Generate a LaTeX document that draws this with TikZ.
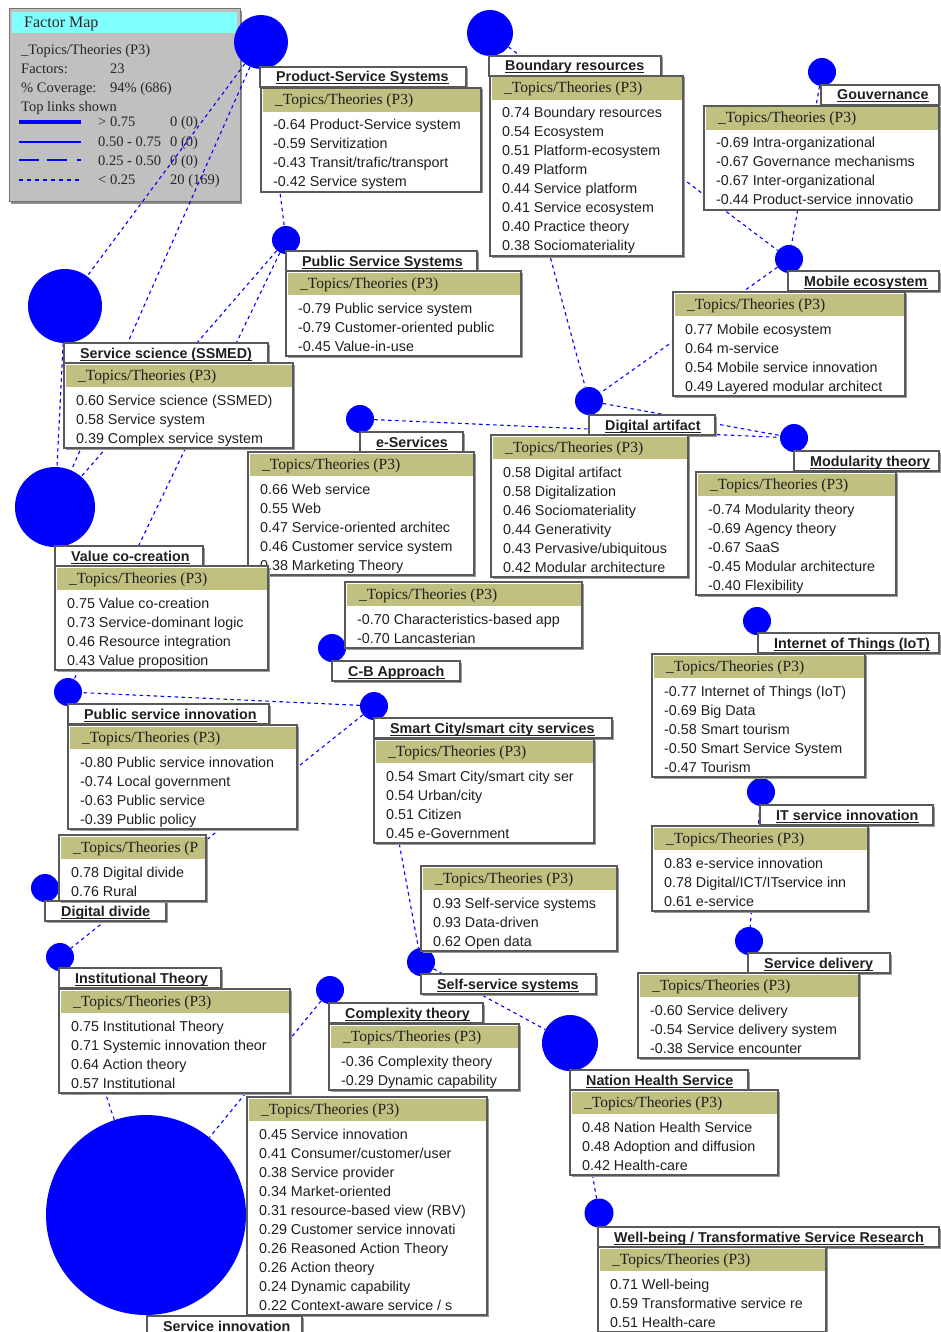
\documentclass[tikz,border=0pt]{standalone}
\usepackage{fontspec}
\setmainfont{Liberation Sans}
\newfontfamily\serifF{Liberation Serif}
\definecolor{hdr}{RGB}{192,192,128}
\definecolor{lgd}{RGB}{192,192,192}
\definecolor{lgdhead}{RGB}{128,255,255}
\definecolor{lnk}{RGB}{0,0,255}
\tikzset{
 fdot/.style={circle, fill=lnk, draw=none, inner sep=0pt, minimum size=#1},
 link/.style={draw=lnk, line width=1.1pt, dash pattern=on 3.5pt off 3.5pt},
 boxline/.style={draw=black!65, line width=1.2pt, fill=white},
 shadowbox/.style={fill=black!40, draw=none},
 itemtext/.style={font=\fontsize{14.3}{17}\selectfont, inner sep=0pt, anchor=base west, text=black!88},
 hdrtext/.style={font=\serifF\fontsize{15.5}{17}\selectfont, inner sep=0pt, anchor=base west, text=black!88},
 lbltext/.style={font=\bfseries\fontsize{14.3}{17}\selectfont, inner sep=0pt, anchor=base west, text=black!88},
 lgdtext/.style={font=\serifF\fontsize{14.5}{17}\selectfont, inner sep=0pt, anchor=base west, text=black!85},
}
% topic box: name, x1, y1, x2, n lines, header, items
\newcommand\tbox[7]{%
 \fill[shadowbox] (#2+1.5,#3+1.5) rectangle (#4+1.5,{#3+28+19*#5+1.5});
 \draw[boxline] (#2,#3) rectangle (#4,{#3+28+19*#5});
 \fill[hdr] (#2+1.5,#3+1.5) rectangle (#4-1.5,#3+24);
 \node[hdrtext] (#1-h) at (#2+14,#3+17) {#6};
 \foreach \itm [count=\i] in {#7} {\node[itemtext] (#1-\i) at (#2+12,{#3+42+19*(\i-1)}) {\itm};}
}
% label box: name, x1, y1, x2, text
\newcommand\lbox[5]{%
 \fill[shadowbox] (#2+1.5,#3+1.5) rectangle (#4+1.5,#3+21.5);
 \draw[boxline] (#2,#3) rectangle (#4,#3+20);
 \node[lbltext] (#1) at (#2+16,#3+15) {#5};
 \draw[line width=1pt, black!88] ([yshift=-2pt]#1.base west) -- ([yshift=-2pt]#1.base east);
}
\begin{document}
\begin{tikzpicture}[x=1pt,y=-1pt]
\useasboundingbox (0,0) rectangle (940,1332);
% legend
\fill[black!45] (11,11) rectangle (242,204);
\draw[draw=black!55, fill=lgd, line width=1pt] (9,9) rectangle (240,202);
\fill[lgdhead] (12,12) rectangle (237,33);
\node[lgdtext, font=\serifF\fontsize{16}{18}\selectfont] (lgT) at (24,28) {Factor Map};
\node[lgdtext] (lg1) at (21,55) {\_Topics/Theories (P3)};
\node[lgdtext] (lg2) at (21,74) {Factors:};
\node[lgdtext] (lg2v) at (110,74) {23};
\node[lgdtext] (lg3) at (21,93) {\% Coverage:};
\node[lgdtext] (lg3v) at (110,93) {94\% (686)};
\node[lgdtext] (lg4) at (21,112) {Top links shown};
\draw[lnk, line width=4pt] (19,122) -- (81,122);
\draw[lnk, line width=1.2pt] (19,142) -- (81,142);
\draw[lnk, line width=1.2pt, dash pattern=on 20pt off 8pt on 20pt off 10pt] (19,160) -- (81,160);
\draw[lnk, line width=1.1pt, dash pattern=on 4pt off 4pt] (19,180) -- (81,180);
\node[lgdtext] (lg5) at (98,127) {> 0.75};
\node[lgdtext] (lg5v) at (170,127) {0 (0)};
\node[lgdtext] (lg6) at (98,147) {0.50 - 0.75};
\node[lgdtext] (lg6v) at (170,147) {0 (0)};
\node[lgdtext] (lg7) at (98,166) {0.25 - 0.50};
\node[lgdtext] (lg7v) at (170,166) {0 (0)};
\node[lgdtext] (lg8) at (98,185) {< 0.25};
\node[lgdtext] (lg8v) at (170,185) {20 (169)};
% circles
\node[fdot=54pt] (cPSS) at (261,42) {};
\node[fdot=46pt] (cBR) at (490,33) {};
\node[fdot=28pt] (cGOV) at (822,72) {};
\node[fdot=28pt] (cMOB) at (789,259) {};
\node[fdot=28pt] (cPUB) at (286,240) {};
\node[fdot=74pt] (cSS) at (65,306) {};
\node[fdot=80pt] (cVCC) at (55,507) {};
\node[fdot=28pt] (cES) at (360,419) {};
\node[fdot=28pt] (cDA) at (589,401) {};
\node[fdot=28pt] (cMOD) at (794,438) {};
\node[fdot=28pt] (cCB) at (332,648) {};
\node[fdot=28pt] (cIOT) at (757,621) {};
\node[fdot=28pt] (cPSI) at (68,692) {};
\node[fdot=28pt] (cSC) at (374,706) {};
\node[fdot=28pt] (cIT) at (761,792) {};
\node[fdot=28pt] (cDD) at (45,888) {};
\node[fdot=28pt] (cSD) at (749,941) {};
\node[fdot=28pt] (cINS) at (60,957) {};
\node[fdot=28pt] (cSSS) at (421,962) {};
\node[fdot=28pt] (cCOM) at (330,990) {};
\node[fdot=56pt] (cNHS) at (570,1043) {};
\node[fdot=29pt] (cWB) at (599,1213) {};
\node[fdot=200pt] (cSI) at (146,1215) {};
% links
\draw[link] (cPSS) -- (cSS);
\draw[link] (cPSS) -- (cVCC);
\draw[link] (cPSS) -- (cPUB);
\draw[link] (cBR) -- (cMOB);
\draw[link] (cGOV) -- (cMOB);
\draw[link] (cMOB) -- (cDA);
\draw[link] (cBR) -- (cDA);
\draw[link] (cDA) -- (cMOD);
\draw[link] (cES) -- (cMOD);
\draw[link] (cSS) -- (cVCC);
\draw[link] (cPUB) -- (cVCC);
\draw[link] (cPUB) -- (cPSI);
\draw[link] (cSC) -- (cPSI);
\draw[link] (cSC) -- (cINS);
\draw[link] (cSC) -- (cSSS);
\draw[link] (cSSS) -- (cNHS);
\draw[link] (cCOM) -- (cSI);
\draw[link] (cINS) -- (cSI);
\draw[link] (cIT) -- (cSD);
\draw[link] (cNHS) -- (cWB);
% boxes
\lbox{lPSS}{260}{67}{466}{Product-Service Systems}
\tbox{tPSS}{261}{88}{481}{4}{\_Topics/Theories (P3)}{-0.64 Product-Service system, -0.59 Servitization, -0.43 Transit/trafic/transport, -0.42 Service system}
\lbox{lBR}{489}{56}{661}{Boundary resources}
\tbox{tBR}{490}{76}{683}{8}{\_Topics/Theories (P3)}{0.74 Boundary resources, 0.54 Ecosystem, 0.51 Platform-ecosystem, 0.49 Platform, 0.44 Service platform, 0.41 Service ecosystem, 0.40 Practice theory, 0.38 Sociomateriality}
\lbox{lGOV}{821}{85}{939}{Gouvernance}
\tbox{tGOV}{704}{106}{939}{4}{\_Topics/Theories (P3)}{-0.69 Intra-organizational, -0.67 Governance mechanisms, -0.67 Inter-organizational, -0.44 Product-service innovatio}
\lbox{lMOB}{788}{271}{939}{Mobile ecosystem}
\tbox{tMOB}{673}{292}{905}{4}{\_Topics/Theories (P3)}{0.77 Mobile ecosystem, 0.64 m-service, 0.54 Mobile service innovation, 0.49 Layered modular architect}
\lbox{lPUB}{286}{251}{477}{Public Service Systems}
\tbox{tPUB}{286}{271}{521}{3}{\_Topics/Theories (P3)}{-0.79 Public service system, -0.79 Customer-oriented public, -0.45 Value-in-use}
\lbox{lSS}{64}{343}{268}{Service science (SSMED)}
\tbox{tSS}{64}{363}{293}{3}{\_Topics/Theories (P3)}{0.60 Service science (SSMED), 0.58 Service system, 0.39 Complex service system}
\lbox{lES}{360}{432}{463}{e-Services}
\tbox{tES}{248}{452}{474}{5}{\_Topics/Theories (P3)}{0.66 Web service, 0.55 Web, 0.47 Service-oriented architec, 0.46 Customer service system, 0.38 Marketing Theory}
\lbox{lVCC}{55}{546}{203}{Value co-creation}
\tbox{tVCC}{55}{566}{268}{4}{\_Topics/Theories (P3)}{0.75 Value co-creation, 0.73 Service-dominant logic, 0.46 Resource integration, 0.43 Value proposition}
\lbox{lDA}{589}{415}{715}{Digital artifact}
\tbox{tDA}{491}{435}{688}{6}{\_Topics/Theories (P3)}{0.58 Digital artifact, 0.58 Digitalization, 0.46 Sociomateriality, 0.44 Generativity, 0.43 Pervasive/ubiquitous, 0.42 Modular architecture}
\lbox{lMOD}{794}{451}{939}{Modularity theory}
\tbox{tMOD}{696}{472}{896}{5}{\_Topics/Theories (P3)}{-0.74 Modularity theory, -0.69 Agency theory, -0.67 SaaS, -0.45 Modular architecture, -0.40 Flexibility}
\lbox{lCB}{332}{661}{460}{C-B Approach}
\tbox{tCB}{345}{582}{582}{2}{\_Topics/Theories (P3)}{-0.70 Characteristics-based app, -0.70 Lancasterian}
\lbox{lIOT}{758}{633}{939}{Internet of Things (IoT)}
\tbox{tIOT}{652}{654}{865}{5}{\_Topics/Theories (P3)}{-0.77 Internet of Things (IoT), -0.69 Big Data, -0.58 Smart tourism, -0.50 Smart Service System, -0.47 Tourism}
\lbox{lPSI}{68}{704}{269}{Public service innovation}
\tbox{tPSI}{68}{725}{297}{4}{\_Topics/Theories (P3)}{-0.80 Public service innovation, -0.74 Local government, -0.63 Public service, -0.39 Public policy}
\lbox{lSC}{374}{718}{612}{Smart City/smart city services}
\tbox{tSC}{374}{739}{594}{4}{\_Topics/Theories (P3)}{0.54 Smart City/smart city ser, 0.54 Urban/city, 0.51 Citizen, 0.45 e-Government}
\lbox{lIT}{760}{805}{933}{IT service innovation}
\tbox{tIT}{652}{826}{868}{3}{\_Topics/Theories (P3)}{0.83 e-service innovation, 0.78 Digital/ICT/ITservice inn, 0.61 e-service}
\lbox{lDD}{45}{901}{166}{Digital divide}
\tbox{tDD}{59}{835}{206}{2}{\_Topics/Theories (P}{0.78 Digital divide, 0.76 Rural}
\lbox{lSD}{748}{953}{890}{Service delivery}
\tbox{tSD}{638}{973}{859}{3}{\_Topics/Theories (P3)}{-0.60 Service delivery, -0.54 Service delivery system, -0.38 Service encounter}
\lbox{lINS}{59}{968}{221}{Institutional Theory}
\tbox{tINS}{59}{989}{290}{4}{\_Topics/Theories (P3)}{0.75 Institutional Theory, 0.71 Systemic innovation theor, 0.64 Action theory, 0.57 Institutional}
\tbox{tSSS}{421}{866}{617}{3}{\_Topics/Theories (P3)}{0.93 Self-service systems, 0.93 Data-driven, 0.62 Open data}
\lbox{lSSS}{421}{974}{596}{Self-service systems}
\lbox{lCOM}{329}{1003}{483}{Complexity theory}
\tbox{tCOM}{329}{1024}{519}{2}{\_Topics/Theories (P3)}{-0.36 Complexity theory, -0.29 Dynamic capability}
\lbox{lNHS}{570}{1070}{748}{Nation Health Service}
\tbox{tNHS}{570}{1090}{778}{3}{\_Topics/Theories (P3)}{0.48 Nation Health Service, 0.48 Adoption and diffusion, 0.42 Health-care}
\lbox{lWB}{598}{1227}{939}{Well-being / Transformative Service Research}
\tbox{tWB}{598}{1247}{826}{3}{\_Topics/Theories (P3)}{0.71 Well-being, 0.59 Transformative service re, 0.51 Health-care}
\tbox{tSI}{247}{1097}{487}{10}{\_Topics/Theories (P3)}{0.45 Service innovation, 0.41 Consumer/customer/user, 0.38 Service provider, 0.34 Market-oriented, 0.31 resource-based view (RBV), 0.29 Customer service innovati, 0.26 Reasoned Action Theory, 0.26 Action theory, 0.24 Dynamic capability, 0.22 Context-aware service / s}
\lbox{lSI}{147}{1316}{302}{Service innovation}
\end{tikzpicture}
\end{document}
